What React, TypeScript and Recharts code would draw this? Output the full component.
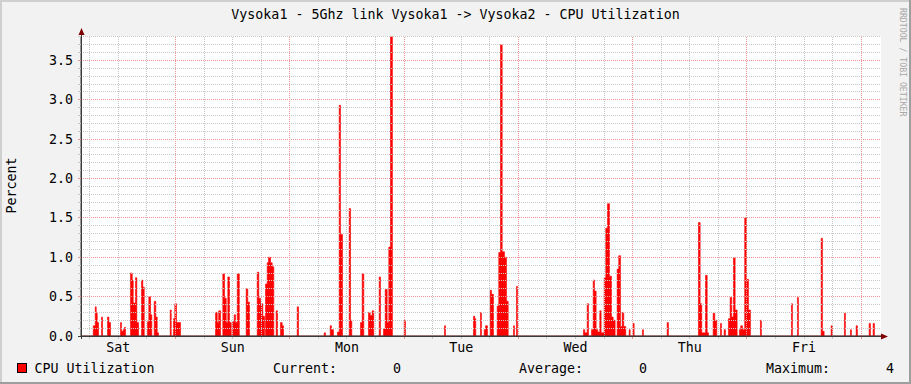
import React from 'react';
import { ComposedChart, Area, XAxis, YAxis, ReferenceLine, CartesianGrid } from 'recharts';

const FONT = '"DejaVu Sans Mono", "Liberation Mono", monospace';

// Hours since Saturday 00:00
const X_START = 4.15;
const X_END = 172.15;
const Y_MAX = 3.81;

const dayLabels = ['Sat', 'Sun', 'Mon', 'Tue', 'Wed', 'Thu', 'Fri'];

const yTickValues = [
  0, 0.1, 0.2, 0.3, 0.4, 0.5, 0.6, 0.7, 0.8, 0.9, 1.0, 1.1, 1.2, 1.3, 1.4, 1.5, 1.6, 1.7, 1.8, 1.9,
  2.0, 2.1, 2.2, 2.3, 2.4, 2.5, 2.6, 2.7, 2.8, 2.9, 3.0, 3.1, 3.2, 3.3, 3.4, 3.5, 3.6, 3.7, 3.8,
];

const xTickValues = [
  6, 12, 18, 24, 30, 36, 42, 48, 54, 60, 66, 72, 78, 84, 90, 96, 102, 108, 114, 120, 126, 132,
  138, 144, 150, 156, 162, 168,
];

// [hour, CPU %] step breakpoints (value holds until next breakpoint)
const cpuSteps: [number, number][] = [
  [4.15, 0],
  [6.72, 0.13], [7.14, 0.37], [7.35, 0.29], [7.56, 0.17], [7.83, 0],
  [8.46, 0.24], [8.67, 0],
  [9.72, 0.24], [10.0, 0.17], [10.35, 0],
  [12.45, 0.17], [12.66, 0.06], [13.02, 0.08], [13.29, 0.11], [13.5, 0],
  [14.55, 0.8], [14.91, 0.71], [15.12, 0.42], [15.6, 0.74], [15.87, 0.17], [16.23, 0],
  [16.86, 0.71], [17.13, 0.62], [17.43, 0],
  [18.12, 0.18], [18.39, 0.5], [18.75, 0.27], [19.02, 0],
  [19.53, 0.44], [19.86, 0.24], [20.16, 0.04], [20.43, 0],
  [22.89, 0.33], [23.1, 0],
  [23.58, 0.22], [23.85, 0.41], [24.21, 0.17], [25.05, 0],
  [32.4, 0.3], [32.76, 0.17], [33.06, 0.32], [33.45, 0],
  [33.93, 0.79], [34.29, 0.48], [34.65, 0.17], [34.98, 0.75], [35.34, 0.17], [35.7, 0],
  [35.97, 0.18], [36.33, 0.27], [36.6, 0.17], [36.96, 0.79], [37.4, 0],
  [38.84, 0.6], [39.18, 0.43], [39.54, 0],
  [41.15, 0.81], [41.49, 0.48], [41.85, 0.41], [42.33, 0.25], [42.69, 0],
  [42.9, 0.66], [43.25, 0.93], [43.53, 1.0], [43.95, 0.93], [44.3, 0.88], [44.64, 0],
  [45.14, 0.32], [45.42, 0],
  [46.05, 0.17], [46.4, 0.13], [46.68, 0],
  [49.55, 0.37], [49.83, 0],
  [55.22, 0.04], [55.5, 0],
  [56.48, 0.13], [56.75, 0.08], [57.17, 0],
  [58.01, 0.05], [58.37, 2.93], [58.64, 1.29], [59.06, 0],
  [60.47, 1.62], [60.75, 0.2], [61.02, 0],
  [62.84, 0.17], [63.2, 0.79], [63.54, 0],
  [64.52, 0.3], [64.88, 0.26], [65.3, 0.32], [65.64, 0],
  [66.77, 0.75], [67.04, 0],
  [67.67, 0.09], [68.03, 0.59], [68.45, 0.17], [68.79, 1.13], [69.14, 3.8], [69.55, 0],
  [72.02, 0.2], [72.29, 0],
  [80.48, 0.13], [80.69, 0],
  [86.57, 0.25], [86.84, 0.22], [87.05, 0],
  [88.04, 0.3], [88.25, 0],
  [88.82, 0.08], [89.09, 0.13], [89.51, 0],
  [90.08, 0.58], [90.35, 0.53], [90.77, 0],
  [91.55, 0.38], [91.88, 1.06], [92.24, 3.7], [92.6, 1.07], [93.08, 1.0], [93.5, 0.44], [93.86, 0],
  [94.97, 0.13], [95.18, 0],
  [95.6, 0.63], [95.81, 0],
  [109.67, 0.08], [109.94, 0.04], [110.45, 0.41], [110.72, 0],
  [111.35, 0.08], [111.71, 0.71], [111.98, 0.57], [112.33, 0.08], [112.67, 0.05], [113.09, 0.32],
  [113.38, 0.04], [114.01, 0.74], [114.35, 1.37], [114.71, 1.68], [115.13, 0.76], [115.55, 0.24],
  [115.9, 0.2], [116.32, 0],
  [116.74, 0.85], [117.08, 1.02], [117.44, 0.12], [117.8, 0.3], [118.13, 0.12], [118.55, 0],
  [119.26, 0.08], [119.47, 0],
  [120.1, 0.16], [120.31, 0],
  [122.05, 0.08], [122.26, 0],
  [127.24, 0.17], [127.51, 0],
  [133.81, 1.44], [134.17, 0.41], [134.51, 0.04], [135.29, 0.77], [135.65, 0.04], [135.92, 0],
  [136.9, 0.29], [137.24, 0.2], [137.66, 0],
  [138.44, 0.16], [138.65, 0],
  [139.21, 0.08], [139.48, 0],
  [140.11, 0.22], [140.47, 0.49], [140.8, 0.24], [141.16, 0.99], [141.52, 0.33], [141.94, 0],
  [142.42, 0.08], [142.69, 0.13], [143.05, 0.08], [143.53, 1.5], [143.89, 0.72], [144.31, 0.33], [144.73, 0],
  [146.83, 0.2], [147.04, 0],
  [153.34, 0.41], [153.55, 0],
  [154.6, 0.49], [154.81, 0],
  [159.58, 1.24], [159.85, 0.06], [160.21, 0],
  [161.68, 0.13], [161.95, 0],
  [164.47, 0.29], [164.68, 0],
  [165.73, 0.08], [165.94, 0],
  [166.93, 0.13], [167.2, 0],
  [169.66, 0.16], [169.93, 0],
  [170.5, 0.16], [170.77, 0],
  [172.15, 0],
];

const legendStats = { current: '0', average: '0', maximum: '4' };

const data = cpuSteps.map(([h, v]) => ({ h, v }));

const GRID = '#c8c8c8';
const MGRID = '#eb9595';
const AXIS = '#3a3a3a';
const ARROW = '#800000';

const isMajorY = (v: number) => Math.round(v * 10) % 5 === 0;

const YTick = (props: any) => {
  const { x, y, payload } = props;
  const v = payload.value as number;
  const major = isMajorY(v);
  return (
    <g>
      <line x1={x - 3} x2={x} y1={y} y2={y} stroke={major ? MGRID : GRID} shapeRendering="crispEdges" />
      {major && (
        <text x={x - 8} y={y} textAnchor="end" dominantBaseline="central" fontFamily={FONT} fontSize={13.3} fill="#000">
          {v.toFixed(1)}
        </text>
      )}
    </g>
  );
};

const XTick = (props: any) => {
  const { x, y, payload } = props;
  const h = payload.value as number;
  const major = h % 24 === 0;
  const label = h % 24 === 12 ? dayLabels[(h - 12) / 24] : null;
  return (
    <g>
      <line x1={x} x2={x} y1={y} y2={y + 3} stroke={major ? MGRID : GRID} shapeRendering="crispEdges" />
      {label && (
        <text x={x} y={y + 11} textAnchor="middle" dominantBaseline="central" fontFamily={FONT} fontSize={13.3} fill="#000">
          {label}
        </text>
      )}
    </g>
  );
};

export default function App() {
  const textStyle = { fontFamily: FONT, fontSize: 13.3, fill: '#000' } as const;
  return (
    <div style={{ position: 'absolute', left: 0, top: 0, width: 911, height: 384, background: '#f2f2f2', overflow: 'hidden' }}>
      <style>{`.rc .recharts-reference-line-line { shape-rendering: crispEdges; }`}</style>
      <div className="rc" style={{ position: 'absolute', left: 0, top: 0 }}>
        <ComposedChart width={911} height={384} data={data} margin={{ top: 36, right: 30, bottom: 24, left: 0 }}>
          <CartesianGrid horizontal={false} vertical={false} fill="#ffffff" fillOpacity={1} stroke="none" />
          {yTickValues
            .filter((v) => v > 0 && !isMajorY(v))
            .map((v) => (
              <ReferenceLine key={'ym' + v} y={v} stroke={GRID} strokeDasharray="1 1" />
            ))}
          {xTickValues
            .filter((h) => h % 24 !== 0)
            .map((h) => (
              <ReferenceLine key={'xm' + h} x={h} stroke={GRID} strokeDasharray="1 1" />
            ))}
          {yTickValues
            .filter((v) => v > 0 && isMajorY(v))
            .map((v) => (
              <ReferenceLine key={'yM' + v} y={v} stroke={MGRID} strokeDasharray="1 1" />
            ))}
          {xTickValues
            .filter((h) => h % 24 === 0)
            .map((h) => (
              <ReferenceLine key={'xM' + h} x={h} stroke={MGRID} strokeDasharray="1 1" />
            ))}
          <Area
            dataKey="v"
            type="stepAfter"
            fill="#ff0000"
            fillOpacity={1}
            stroke="#ff0000"
            strokeWidth={0.6}
            isAnimationActive={false}
            dot={false}
            activeDot={false}
          />
          <XAxis
            dataKey="h"
            type="number"
            domain={[X_START, X_END]}
            allowDataOverflow
            ticks={xTickValues}
            interval={0}
            height={24}
            tickSize={0}
            tickMargin={0}
            tickLine={false}
            axisLine={{ stroke: AXIS }}
            tick={<XTick />}
          />
          <YAxis
            type="number"
            domain={[0, Y_MAX]}
            allowDataOverflow
            ticks={yTickValues}
            interval={0}
            width={81}
            tickSize={0}
            tickMargin={0}
            tickLine={false}
            axisLine={{ stroke: AXIS }}
            tick={<YTick />}
          />
        </ComposedChart>
      </div>
      <svg width={911} height={384} style={{ position: 'absolute', left: 0, top: 0, pointerEvents: 'none' }}>
        {/* frame */}
        <rect x={0} y={0} width={911} height={2} fill="#cfcfcf" />
        <rect x={0} y={0} width={2} height={384} fill="#cfcfcf" />
        <rect x={909} y={0} width={2} height={384} fill="#9e9e9e" />
        <rect x={0} y={382} width={911} height={2} fill="#9e9e9e" />
        {/* axis extensions and arrows */}
        <line x1={81.5} x2={81.5} y1={339} y2={32} stroke={AXIS} />
        <line x1={78} x2={884} y1={336.5} y2={336.5} stroke={AXIS} />
        <polygon points="81.5,28 78.5,35 84.5,35" fill={ARROW} />
        <polygon points="888,336.5 881,333.5 881,339.5" fill={ARROW} />
        {/* title */}
        <text x={455.5} y={14} textAnchor="middle" dominantBaseline="central" {...textStyle}>
          Vysoka1 - 5Ghz link Vysoka1 -&gt; Vysoka2 - CPU Utilization
        </text>
        {/* y label */}
        <text x={11.5} y={185.5} textAnchor="middle" dominantBaseline="central" transform="rotate(-90 11.5 185.5)" {...textStyle}>
          Percent
        </text>
        {/* watermark */}
        <text x={8} y={-903} fontFamily={FONT} fontSize={8.2} fill="#a8a8a8" dominantBaseline="central" transform="rotate(90)">
          RRDTOOL / TOBI OETIKER
        </text>
        {/* legend */}
        <rect x={17.5} y={363.5} width={9} height={9} fill="#ff0000" stroke="#000" />
        <text x={34.5} y={368} dominantBaseline="central" {...textStyle}>CPU Utilization</text>
        <text x={273} y={368} dominantBaseline="central" {...textStyle}>Current:</text>
        <text x={393} y={368} dominantBaseline="central" {...textStyle}>{legendStats.current}</text>
        <text x={519} y={368} dominantBaseline="central" {...textStyle}>Average:</text>
        <text x={639} y={368} dominantBaseline="central" {...textStyle}>{legendStats.average}</text>
        <text x={766} y={368} dominantBaseline="central" {...textStyle}>Maximum:</text>
        <text x={886} y={368} dominantBaseline="central" {...textStyle}>{legendStats.maximum}</text>
      </svg>
    </div>
  );
}
